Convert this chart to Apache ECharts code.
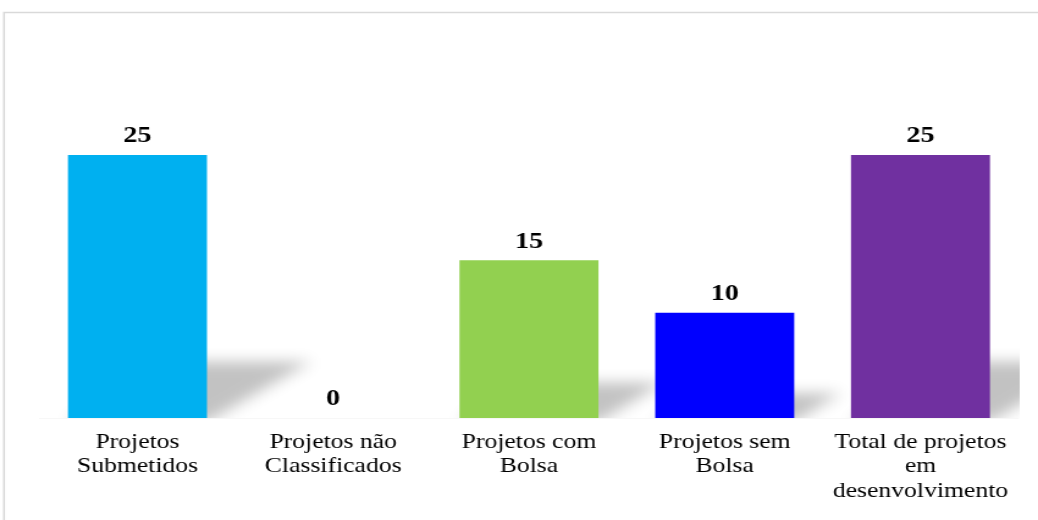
<!DOCTYPE html>
<html>
<head>
<meta charset="utf-8">
<script src="https://cdn.jsdelivr.net/npm/echarts@6/dist/echarts.min.js"></script>
<style>
  html, body { margin: 0; padding: 0; background: #ffffff; overflow: hidden; }
  #wrap { width: 1038px; height: 520px; overflow: hidden; }
  /* The chart is laid out at a narrower width and stretched sideways,
     giving the wide serif lettering of the printed report. */
  #chart { width: 850px; height: 520px; transform: scaleX(1.22118); transform-origin: 0 0; }
</style>
</head>
<body>
<div id="wrap"><div id="chart"></div></div>
<script>
// Project counts
const categories = [
  'Projetos\nSubmetidos',
  'Projetos não\nClassificados',
  'Projetos com\nBolsa',
  'Projetos sem\nBolsa',
  'Total de projetos\nem\ndesenvolvimento'
];
const values = [25, 0, 15, 10, 25];
const barColors = ['#00B0F0', '#FFFFFF', '#92D050', '#0000FF', '#7030A0'];

const SERIF = '"Liberation Serif", "Times New Roman", Times, serif';
const BAR_RATIO = 0.71;
const chart = echarts.init(document.getElementById('chart'), null, { renderer: 'canvas' });

// Soft perspective shadow lying behind each bar, towards the upper right.
// The shape itself is drawn far off to the left; only its blurred shadow lands in the plot.
function renderShadow(params, api) {
  const i = api.value(0);
  const v = api.value(1);
  const top = api.coord([i, v]);
  const base = api.coord([i, 0]);
  const h = base[1] - top[1];
  if (h <= 0) return null;
  const bw = api.size([1, 0])[0] * BAR_RATIO;
  const sh = h * 0.2 + 4;
  const skew = sh * 1.5;
  const xl = top[0] - bw / 2;
  const xr = top[0] + bw / 2;
  const off = 3000;
  return {
    type: 'polygon',
    silent: true,
    shape: {
      points: [
        [xl - off, base[1] + 4],
        [xr - off, base[1] + 4],
        [xr + skew - off, base[1] - sh],
        [xl + skew - off, base[1] - sh]
      ]
    },
    style: {
      fill: '#000',
      shadowBlur: 14,
      shadowColor: 'rgba(0,0,0,0.24)',
      shadowOffsetX: off,
      shadowOffsetY: 0
    }
  };
}

const option = {
  animation: false,
  backgroundColor: '#ffffff',
  graphic: [{
    type: 'rect',
    silent: true,
    shape: { x: 3.3, y: 12.5, width: 2000, height: 2000 },
    style: { fill: 'none', stroke: '#d9d9d9', lineWidth: 1.6 }
  }],
  grid: { left: 32.4, width: 801.5, top: 102.4, bottom: 102, containLabel: false },
  xAxis: {
    type: 'category',
    data: categories,
    axisTick: { show: false },
    axisLine: { show: true, lineStyle: { color: '#f7f7f7', width: 1 } },
    axisLabel: {
      interval: 0,
      margin: 12,
      color: '#000000',
      fontFamily: SERIF,
      fontSize: 21,
      lineHeight: 24.5,
      align: 'center'
    }
  },
  yAxis: {
    type: 'value',
    min: 0,
    max: 30,
    show: false,
    splitLine: { show: false }
  },
  series: [
    {
      type: 'custom',
      z: 1,
      clip: true,
      silent: true,
      renderItem: renderShadow,
      encode: { x: 0, y: 1 },
      data: values.map((v, i) => [i, v])
    },
    {
      type: 'bar',
      z: 3,
      barWidth: (BAR_RATIO * 100) + '%',
      data: values.map((v, i) => ({ value: v, itemStyle: { color: barColors[i] } })),
      label: {
        show: true,
        position: 'top',
        distance: 7,
        color: '#000000',
        fontFamily: SERIF,
        fontWeight: 'bold',
        fontSize: 23
      }
    }
  ]
};

chart.setOption(option);
</script>
</body>
</html>
